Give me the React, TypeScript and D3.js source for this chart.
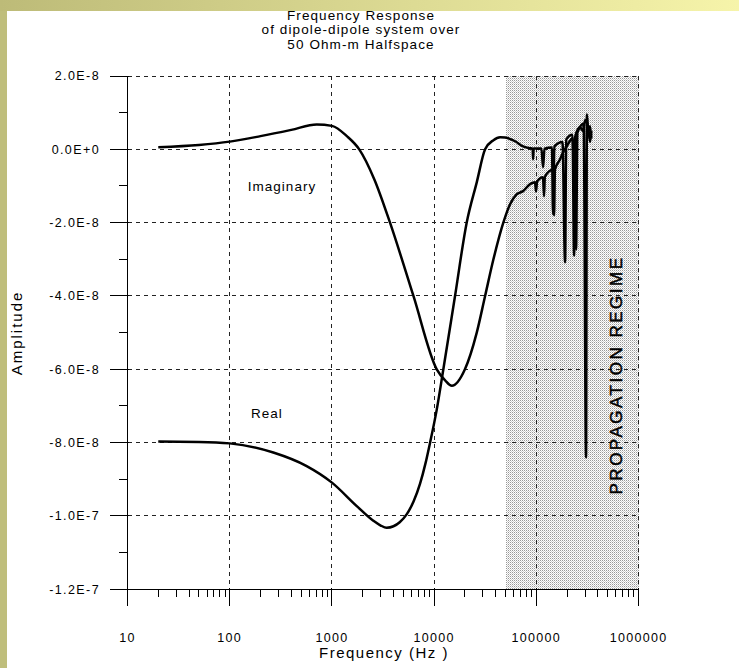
import React from 'react';
import * as d3 from 'd3';

const titleLines = ['Frequency Response', 'of dipole-dipole system over', '50 Ohm-m Halfspace'];
const xTickValues = [10, 100, 1000, 10000, 100000, 1000000];
const xTickLabels = ['10', '100', '1000', '10000', '100000', '1000000'];
const yTickValues = [2e-8, 0, -2e-8, -4e-8, -6e-8, -8e-8, -1e-7, -1.2e-7];
const yTickLabels = ['2.0E-8', '0.0E+0', '-2.0E-8', '-4.0E-8', '-6.0E-8', '-8.0E-8', '-1.0E-7', '-1.2E-7'];
const yMinorValues = [1e-8, -1e-8, -3e-8, -5e-8, -7e-8, -9e-8, -1.1e-7];
const minorMultipliers = [2, 3, 4, 5, 6, 7, 8, 9];

const propagationStart = 50000;
const propagationEnd = 1000000;

// Real component (Hz, amplitude)
const realFreq = [20, 50, 100, 267, 566, 1000, 1750, 2540, 3000, 3430, 4000, 4600, 5400, 6300, 7280, 8200, 9120, 10600, 12300, 16000, 20800, 26100, 31500, 38000, 44200, 49400, 61900, 74100, 86700,
  92000, 92900, 94000, 112000, 116300, 120000, 142000, 145600, 150000, 180000, 190900, 196000, 225000, 244500, 252000, 290000, 306300, 312000, 322000, 335000, 345000];
const realAmp = [-7.97e-8, -7.98e-8, -8.02e-8, -8.27e-8, -8.64e-8, -9.09e-8, -9.73e-8, -10.13e-8, -10.26e-8, -10.32e-8, -10.28e-8, -10.17e-8, -9.95e-8, -9.6e-8, -9.12e-8, -8.58e-8, -8.0e-8, -7.1e-8, -6.0e-8, -4.0e-8, -2.0e-8, -0.9e-8, 0, 0.25e-8, 0.33e-8, 0.32e-8, 0.22e-8, 0.08e-8, 0.03e-8,
  0.02e-8, -0.27e-8, 0.02e-8, 0.02e-8, -0.49e-8, 0.02e-8, 0.05e-8, -1.77e-8, 0.08e-8, 0.2e-8, -3.08e-8, 0.27e-8, 0.4e-8, -2.73e-8, 0.46e-8, 0.7e-8, -8.4e-8, 0.95e-8, 0.5e-8, 0.63e-8, 0.3e-8];

// Imaginary component (Hz, amplitude)
const imagFreq = [20, 50, 100, 200, 400, 710, 1000, 1400, 1850, 2600, 3700, 6270, 10600, 12800, 14900, 20000, 26100, 31500, 38000, 47500, 55300, 64000, 74100, 86700,
  97000, 99300, 101500, 116000, 118900, 121000, 145000, 148900, 152000, 170600, 185000, 200000, 226000, 233900, 240000, 267500, 286000, 300000, 320500, 335300, 345000];
const imagAmp = [0.06e-8, 0.12e-8, 0.21e-8, 0.36e-8, 0.53e-8, 0.68e-8, 0.64e-8, 0.36e-8, 0, -0.82e-8, -2.0e-8, -4.0e-8, -6.0e-8, -6.3e-8, -6.45e-8, -6.0e-8, -5.0e-8, -4.0e-8, -3.0e-8, -2.0e-8, -1.5e-8, -1.23e-8, -1.14e-8, -0.95e-8,
  -0.9e-8, -1.15e-8, -0.88e-8, -0.76e-8, -1.28e-8, -0.75e-8, -0.56e-8, -1.8e-8, -0.55e-8, -0.27e-8, -0.05e-8, 0.1e-8, 0.3e-8, -2.9e-8, 0.35e-8, 0.6e-8, 0.5e-8, 0.8e-8, 0.6e-8, 0.2e-8, 0.5e-8];

const FONT = "'Liberation Sans', Arial, sans-serif";

export default function App() {
  const W = 739;
  const H = 668;
  const x = d3.scaleLog().domain([10, 1000000]).range([127.5, 638.6]);
  const y = d3.scaleLinear().domain([-1.2e-7, 2e-8]).range([589.3, 76]);
  const left = x(10);
  const right = x(1000000);
  const top = y(2e-8);
  const bottom = y(-1.2e-7);

  const line = d3.line<[number, number]>()
    .x((d) => x(d[0]))
    .y((d) => y(d[1]))
    .curve(d3.curveMonotoneX);

  const realData: [number, number][] = realFreq.map((f, i) => [f, realAmp[i]]);
  const imagData: [number, number][] = imagFreq.map((f, i) => [f, imagAmp[i]]);

  const minorX: number[] = [];
  xTickValues.slice(0, -1).forEach((d) => minorMultipliers.forEach((m) => minorX.push(d * m)));

  return (
    <svg width={W} height={H} style={{ position: 'absolute', left: 0, top: 0, background: '#fff' }}>
      <defs>
        <linearGradient id="band" x1="0" x2="1" y1="0" y2="0">
          <stop offset="0" stopColor="#bdbb78" />
          <stop offset="1" stopColor="#f6f4aa" />
        </linearGradient>
        <pattern id="stip" width="2" height="2" patternUnits="userSpaceOnUse">
          <rect width="2" height="2" fill="#ffffff" />
          <rect x="0" y="0" width="1" height="1" fill="#999999" />
          <rect x="1" y="1" width="1" height="1" fill="#cfcfcf" />
        </pattern>
      </defs>
      <rect x={0} y={0} width={W} height={H} fill="#ffffff" />
      <rect x={0} y={0} width={7} height={H} fill="#bfbe7c" />
      <rect x={0} y={0} width={W} height={11} fill="url(#band)" />

      {titleLines.map((t, i) => (
        <text key={i} x={361} y={19.5 + i * 14.5} textAnchor="middle" fontFamily={FONT} fontSize={13.5} letterSpacing={1.1} fill="#000">{t}</text>
      ))}

      {/* propagation regime shading */}
      <rect x={x(propagationStart)} y={top} width={x(propagationEnd) - x(propagationStart)} height={bottom - top} fill="url(#stip)" shapeRendering="crispEdges" />

      {/* grid */}
      <g stroke="#222" strokeWidth={1} strokeDasharray="4,4" shapeRendering="crispEdges">
        {xTickValues.slice(1).map((v) => (
          <line key={'gx' + v} x1={x(v)} x2={x(v)} y1={top} y2={bottom} />
        ))}
        {yTickValues.slice(0, -1).map((v) => (
          <line key={'gy' + v} x1={left} x2={right} y1={y(v)} y2={y(v)} />
        ))}
      </g>

      {/* axes */}
      <g stroke="#000" strokeWidth={1} shapeRendering="crispEdges">
        <line x1={left} x2={left} y1={top} y2={bottom + 17} />
        <line x1={left - 18} x2={right} y1={bottom} y2={bottom} />
        {yTickValues.map((v) => (
          <line key={'ty' + v} x1={left - 18} x2={left + 1} y1={y(v)} y2={y(v)} />
        ))}
        {yMinorValues.map((v) => (
          <line key={'my' + v} x1={left - 9} x2={left} y1={y(v)} y2={y(v)} />
        ))}
        {xTickValues.map((v) => (
          <line key={'tx' + v} x1={x(v)} x2={x(v)} y1={bottom - 1} y2={bottom + 17} />
        ))}
        {minorX.map((v) => (
          <line key={'mx' + v} x1={x(v)} x2={x(v)} y1={bottom} y2={bottom + 8} />
        ))}
      </g>

      {/* tick labels */}
      {yTickValues.map((v, i) => (
        <text key={'ly' + v} x={100} y={y(v)} dy="0.35em" textAnchor="end" fontFamily={FONT} fontSize={12.5} letterSpacing={1.4} fill="#000">{yTickLabels[i]}</text>
      ))}
      {xTickValues.map((v, i) => (
        <text key={'lx' + v} x={x(v)} y={637.5} dy="0.35em" textAnchor="middle" fontFamily={FONT} fontSize={12.5} letterSpacing={1.3} fill="#000">{xTickLabels[i]}</text>
      ))}

      <text x={384} y={653} dy="0.35em" textAnchor="middle" fontFamily={FONT} fontSize={15} letterSpacing={1.5} fill="#000">Frequency (Hz )</text>
      <text transform={`translate(17,${333}) rotate(-90)`} dy="0.35em" textAnchor="middle" fontFamily={FONT} fontSize={15} letterSpacing={2} fill="#000">Amplitude</text>

      {/* curves */}
      <path d={line(realData) || ''} fill="none" stroke="#000" strokeWidth={2.5} strokeLinejoin="round" />
      <path d={line(imagData) || ''} fill="none" stroke="#000" strokeWidth={2.5} strokeLinejoin="round" />

      <text x={282} y={186} dy="0.35em" textAnchor="middle" fontFamily={FONT} fontSize={13.5} letterSpacing={1} fill="#000">Imaginary</text>
      <text x={267} y={413} dy="0.35em" textAnchor="middle" fontFamily={FONT} fontSize={13.5} letterSpacing={1} fill="#000">Real</text>

      <text transform={`translate(616,${375}) rotate(-90)`} dy="0.35em" textAnchor="middle" fontFamily={FONT} fontSize={17} letterSpacing={2.5} stroke="#000" strokeWidth={0.5} fill="#000">PROPAGATION REGIME</text>
    </svg>
  );
}
